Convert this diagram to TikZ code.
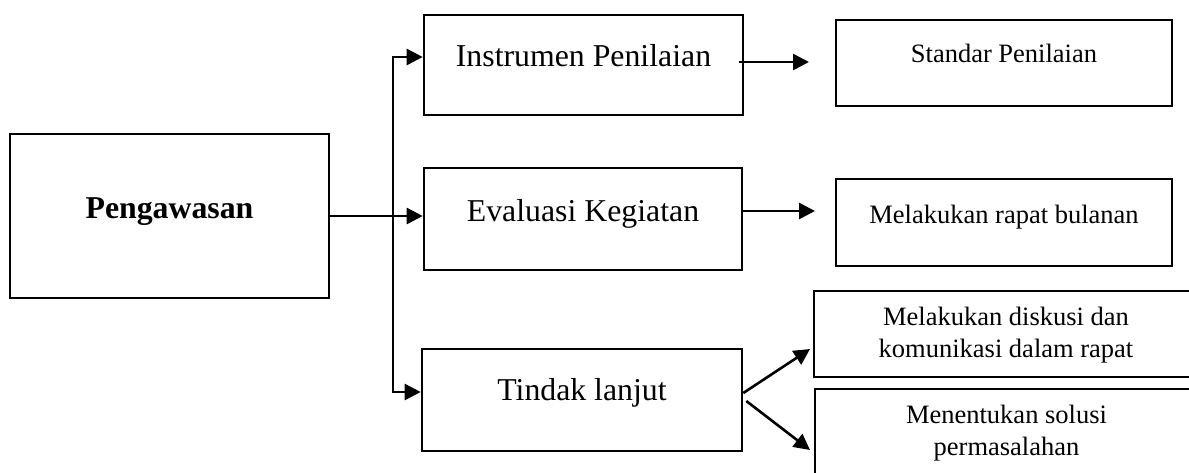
\documentclass[tikz,border=0pt]{standalone}
\usepackage{fontspec}
\setmainfont{Liberation Serif}
\usepackage{tikz}
\usetikzlibrary{arrows.meta,positioning,calc}

\begin{document}
\begin{tikzpicture}[x=0.5pt, y=-0.5pt, >={Triangle[length=8pt,width=8pt]},
    box/.style={draw, line width=1.3pt, inner sep=0pt},
    bigtxt/.style={font=\fontsize{15.9}{19}\selectfont, anchor=base, inner sep=0pt},
    smalltxt/.style={font=\fontsize{13.25}{16}\selectfont, anchor=base, inner sep=0pt, align=center},
    arr/.style={->, line width=1.3pt}]
  \clip (0,0) rectangle (1189,472);
  % boxes
  \node[box, minimum width=159.5pt, minimum height=82pt] (peng) at (169.5,216) {};
  \node[box, minimum width=159.5pt, minimum height=50pt] (instr) at (583.5,65) {};
  \node[box, minimum width=159pt, minimum height=51pt] (eval) at (583,219) {};
  \node[box, minimum width=160pt, minimum height=51pt] (tindak) at (582,400) {};
  \node[box, minimum width=168pt, minimum height=43pt] (std) at (1004,63) {};
  \node[box, minimum width=168pt, minimum height=43.5pt] (rapat) at (1004,222.5) {};
  \node[box, minimum width=192pt, minimum height=43pt] (disk) at (1006,334) {};
  \node[box, minimum width=191.5pt, minimum height=45.5pt] (sol) at (1006.5,434.5) {};
  % texts (base = last line)
  \node[bigtxt] (pengtxt) at (169.5,218) {\textbf{Pengawasan}};
  \node[bigtxt] (instrtxt) at (583.5,66) {Instrumen Penilaian};
  \node[bigtxt] (evaltxt) at (583,221) {Evaluasi Kegiatan};
  \node[bigtxt] (tindaktxt) at (582,400) {Tindak lanjut};
  \node[smalltxt] (stdtxt) at (1004,62) {Standar Penilaian};
  \node[smalltxt] (rapattxt) at (1004,223) {Melakukan rapat bulanan};
  \node[smalltxt] (disktxt) at (1006,357) {Melakukan diskusi dan\\komunikasi dalam rapat};
  \node[smalltxt] (soltxt) at (1006.5,455) {Menentukan solusi\\permasalahan};
  % connectors
  \coordinate (jt) at (393,57);
  \coordinate (jb) at (393,392);
  \coordinate (s1) at (809,62);
  \coordinate (r1) at (815,211);
  \coordinate (d1) at (810,349);
  \coordinate (o1) at (810,450);
  \draw[arr] (peng.east) -- (peng.east -| eval.west);
  \draw[arr, <->] (jt -| instr.west) -- (jt) -- (jb) -- (jb -| tindak.west);
  \draw[arr] (instr.east |- s1) ++(-5,0) -- (s1);
  \draw[arr] (eval.east |- r1) -- (r1);
  \draw[arr] ([yshift=3.5pt]tindak.east) -- (d1);
  \draw[arr] ([xshift=1.5pt,yshift=-0.5pt]tindak.east) -- (o1);
\end{tikzpicture}
\end{document}
